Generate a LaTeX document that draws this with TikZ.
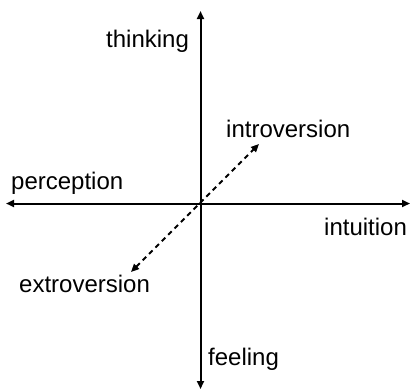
\documentclass[tikz,border=0pt]{standalone}
\usepackage{fontspec}
\setmainfont{Liberation Sans}
\usetikzlibrary{arrows.meta}
\begin{document}
\begin{tikzpicture}[x=1pt,y=-1pt,
  axis/.style={line width=2pt,-{Triangle[length=8pt,width=7pt]}},
  diag/.style={line width=1.8pt,dash pattern=on 5pt off 4pt,{Triangle[length=8pt,width=7pt]}-{Triangle[length=8pt,width=7pt]}},
  lbl/.style={anchor=base west,inner sep=0pt,font=\fontsize{24}{27}\selectfont}]
\useasboundingbox (0,0) rectangle (411,391);
\coordinate (o) at (200.5,203.5);
\coordinate (top) at (200.5,11);
\coordinate (bot) at (200.5,389);
\coordinate (lft) at (6,203.5);
\coordinate (rgt) at (410,203.5);
\coordinate (ne) at (259,144);
\coordinate (sw) at (131,272);
\draw[axis] (o) -- (top);
\draw[axis] (o) -- (bot);
\draw[axis] (o) -- (lft);
\draw[axis] (o) -- (rgt);
\draw[diag] (sw) -- (ne);
\node[lbl] (thinking) at (106,47.5) {thinking};
\node[lbl] (perception) at (11,189) {perception};
\node[lbl] (intuition) at (324,235) {intuition};
\node[lbl] (introversion) at (226,137) {introversion};
\node[lbl] (extroversion) at (19,292) {extroversion};
\node[lbl] (feeling) at (208,365) {feeling};
\end{tikzpicture}
\end{document}
